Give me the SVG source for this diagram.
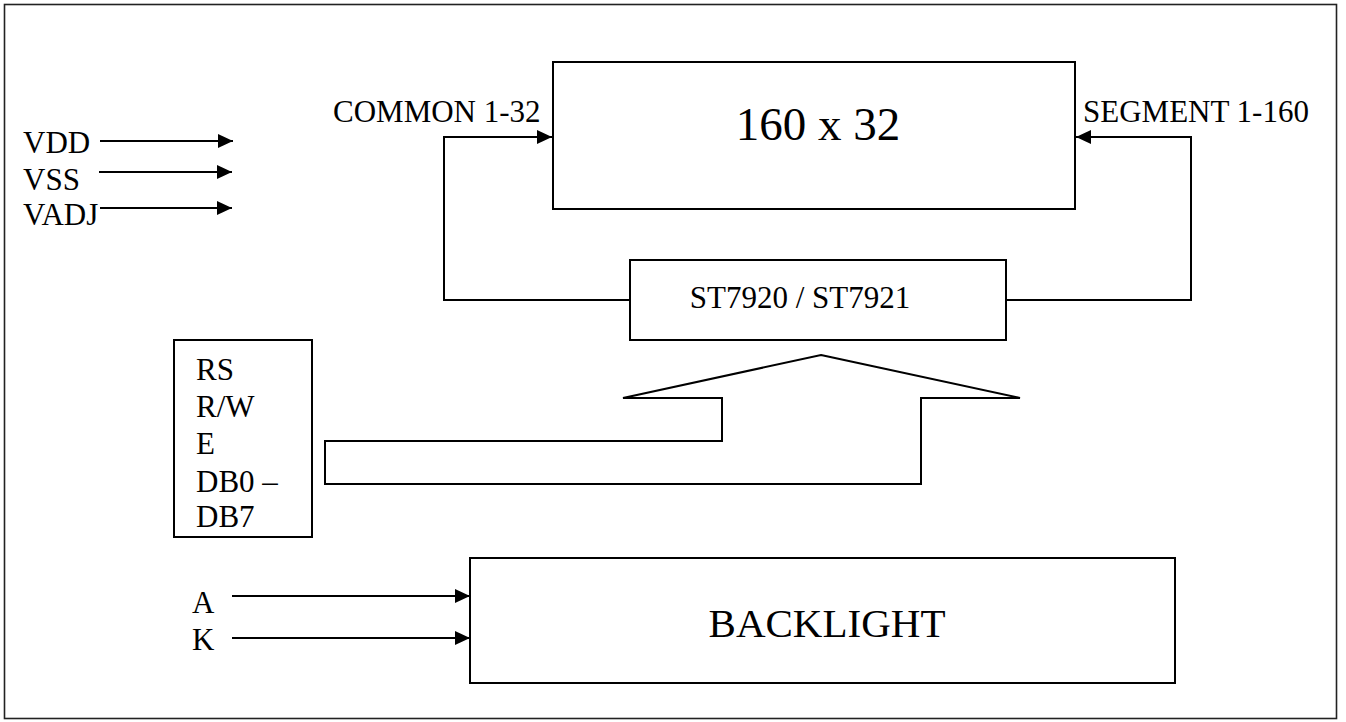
<svg xmlns="http://www.w3.org/2000/svg" width="1346" height="722" viewBox="0 0 1346 722">
<style>
.box{fill:#fff;stroke:#000;stroke-width:2}
.ln{fill:none;stroke:#000;stroke-width:2}
.t{font-family:"Liberation Serif","Times New Roman",serif;fill:#000}
.s{font-size:31px}
</style>
<defs>
<marker id="ah" markerUnits="userSpaceOnUse" markerWidth="16" markerHeight="16" refX="15" refY="7" orient="auto">
<path d="M0,0 L15,7 L0,14 z" fill="#000"/>
</marker>
</defs>
<rect x="0" y="0" width="1346" height="722" fill="#fff"/>
<rect x="4.5" y="4.5" width="1332" height="714" fill="none" stroke="#222" stroke-width="1.6"/>

<g id="connectors">
<polyline class="ln" points="630,300 444,300 444,137 552,137" marker-end="url(#ah)"/>
<polyline class="ln" points="1006,300 1191,300 1191,137 1076,137" marker-end="url(#ah)"/>
<line class="ln" x1="100" y1="141" x2="233" y2="141" marker-end="url(#ah)"/>
<line class="ln" x1="99" y1="172" x2="232" y2="172" marker-end="url(#ah)"/>
<line class="ln" x1="100" y1="208" x2="232" y2="208" marker-end="url(#ah)"/>
<line class="ln" x1="232" y1="596" x2="470" y2="596" marker-end="url(#ah)"/>
<line class="ln" x1="232" y1="638" x2="470" y2="638" marker-end="url(#ah)"/>
<polygon class="ln" points="821,355 1020,398 921,398 921,484 325,484 325,441 722,441 722,398 623,398"/>
</g>

<g id="power-labels">
<text class="t s" x="23" y="153">VDD</text>
<text class="t s" x="23" y="190">VSS</text>
<text class="t s" x="23" y="225">VADJ</text>
</g>

<g id="display">
<rect class="box" x="553" y="62" width="522" height="147"/>
<text class="t" x="818" y="140" font-size="47" text-anchor="middle">160 x 32</text>
</g>

<g id="common-label"><text class="t s" x="333" y="122">COMMON 1-32</text></g>
<g id="segment-label"><text class="t s" x="1083" y="122">SEGMENT 1-160</text></g>

<g id="controller">
<rect class="box" x="630" y="260" width="376" height="80"/>
<text class="t s" x="800" y="308" text-anchor="middle">ST7920 / ST7921</text>
</g>

<g id="interface">
<rect class="box" x="174" y="340" width="138" height="197"/>
<text class="t s" x="196" y="380">RS</text>
<text class="t s" x="196" y="417">R/W</text>
<text class="t s" x="196" y="454">E</text>
<text class="t s" x="196" y="492">DB0 –</text>
<text class="t s" x="196" y="527">DB7</text>
</g>

<g id="backlight">
<rect class="box" x="470" y="558" width="705" height="125"/>
<text class="t" x="827" y="637" font-size="41" text-anchor="middle">BACKLIGHT</text>
</g>

<g id="backlight-labels">
<text class="t s" x="192" y="613">A</text>
<text class="t s" x="192" y="650">K</text>
</g>
</svg>
